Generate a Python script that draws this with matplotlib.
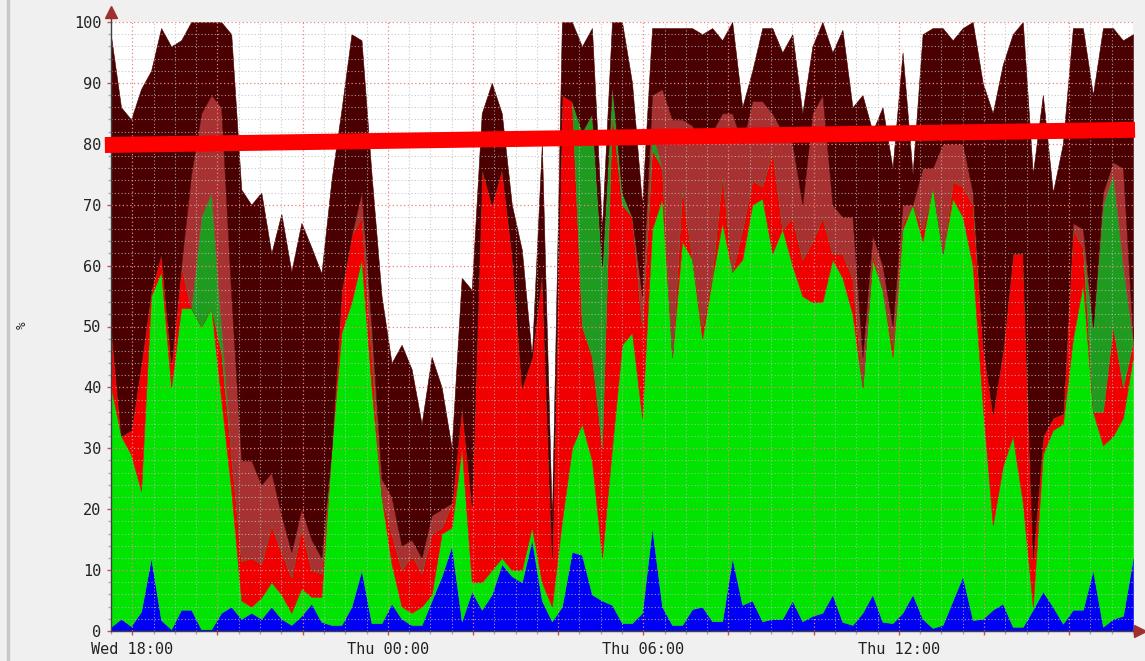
import numpy as np
import pandas as pd
import matplotlib
matplotlib.use("Agg")
import matplotlib.pyplot as plt
import matplotlib.dates as mdates
from matplotlib.lines import Line2D
from matplotlib.ticker import MultipleLocator, FuncFormatter

# 24h window, one sample every ~14 minutes
start = "2024-01-03 17:30"   # a Wednesday
end = "2024-01-04 17:30"

# upper edge of each stacked layer, in %
blue_top = [0.7, 2, 0.8, 3.2, 12, 1.8, 0.3, 3.5, 3.5, 0.3,
            0.3, 3, 4, 2, 3, 2, 4, 2, 1, 2.5,
            4.5, 1.5, 1, 1, 4, 10, 1.3, 1.3, 4.5, 2,
            1, 1, 5, 9, 14, 1.6, 6.5, 3.5, 6, 11,
            9, 8, 15, 5, 1.6, 4, 13, 12.5, 6, 5,
            4.3, 1.3, 1.3, 3, 17, 4, 1, 1, 3.6, 4,
            1.6, 1.6, 12, 4.3, 5, 1.6, 2, 2, 5, 1.6,
            2.5, 3, 6, 1.5, 1, 3, 6, 1.5, 1.3, 3,
            6, 2, 0.5, 1, 5, 9, 1.8, 2, 3.5, 4.5,
            0.7, 0.7, 3.5, 6.5, 4, 1.2, 3.5, 3.5, 10, 0.7,
            2, 2.5, 12]

green_top = [40, 32, 29, 23, 55, 59, 40, 53, 53, 50,
             53, 38, 23, 5, 4, 5.5, 8, 6, 3, 7,
             5.6, 5.6, 30, 49, 54, 61, 40, 22, 11, 4,
             3, 4, 6, 16, 17, 30, 8, 8, 10, 12,
             10, 10, 17, 8, 4, 18, 30, 34, 28, 12,
             30, 47, 49, 35, 66, 71, 45, 64, 61, 48,
             58, 67, 59, 61, 70, 71, 62, 66, 60, 55,
             54, 54, 61, 58, 52, 40, 61, 56, 45, 66,
             70, 64, 73, 62, 71, 68, 60, 37, 17.4, 27,
             32, 21, 4, 29, 33, 34, 48, 57, 36, 30.5,
             32, 35, 45]

red_top = [50, 30, 33, 44, 56, 62, 44, 60, 53, 50,
           53, 45.6, 29, 11.5, 12, 11, 17.4, 13, 8.8, 17,
           10, 9.5, 30, 56, 65, 68, 45, 17, 16, 10,
           12.5, 9.5, 16, 17, 21, 37, 20.6, 76, 70, 76,
           62, 40, 45, 59, 12, 88, 87, 50, 45, 30,
           85, 70, 68, 50, 79, 76, 45, 73, 61, 50,
           59, 75, 56, 66, 74, 73, 79, 65, 68, 61,
           64, 68, 62, 62, 58, 40, 62, 56, 47, 67,
           62, 66, 62, 62, 73.8, 73, 70, 47, 35.7, 46,
           62, 62, 12, 32, 35, 35.7, 66, 63, 36, 36,
           50, 40, 47.5]

darkgreen_top = [50, 30, 33, 44, 56, 62, 44, 60, 53, 68,
                 72, 50, 29, 11.5, 12, 11, 17.4, 13, 8.8, 17,
                 10, 9.5, 30, 56, 65, 68, 45, 17, 16, 10,
                 12.5, 9.5, 16, 17, 21, 37, 20.6, 76, 70, 76,
                 62, 40, 45, 59, 12, 88, 87, 82, 85, 60,
                 90, 72, 68, 50, 82, 76, 45, 73, 61, 50,
                 59, 75, 56, 66, 74, 73, 79, 65, 68, 61,
                 64, 68, 62, 62, 58, 40, 62, 56, 47, 67,
                 62, 66, 62, 62, 73.8, 73, 70, 47, 35.7, 46,
                 62, 62, 12, 32, 35, 35.7, 66, 63, 50, 70,
                 75, 60, 47.5]

brown_top = [50, 30, 33, 44, 56, 62, 44, 60, 75, 85,
             88, 86, 55, 28, 28, 24, 26, 19, 13, 20,
             15, 12, 30, 56, 65, 72, 50, 25, 22, 14,
             15, 12, 19, 20, 21, 37, 20.6, 76, 70, 76,
             62, 40, 45, 59, 12, 88, 87, 82, 85, 60,
             90, 72, 68, 55, 88, 89, 84, 84, 83, 80,
             82, 85, 85, 80, 87, 87, 85, 82, 80, 70,
             85, 88, 70, 68, 68, 45, 65, 60, 50, 70,
             65, 76, 76, 80, 80, 80, 72, 47, 35.7, 46,
             62, 62, 12, 32, 35, 35.7, 67, 66, 50, 72,
             77, 76, 48]

total = [97.7, 86, 84, 89, 92, 99, 96, 97, 100, 100,
         100, 100, 98, 72.5, 70, 72, 62, 68.5, 59, 67,
         63, 58.7, 74, 85.6, 98, 97, 75, 55, 44, 47,
         43, 34, 45, 40, 30, 58, 56, 85, 90, 85,
         70, 62.6, 45, 80, 18, 100, 100, 96, 99, 66,
         100, 100, 90, 70, 99, 99, 99, 99, 99, 98,
         99, 97, 100, 86, 92, 99, 99, 95, 98, 85,
         96, 100, 95, 98.7, 86, 88, 82, 86, 76, 95,
         75, 98, 99, 99, 97, 99, 100, 90, 85, 93,
         98, 100, 75, 88, 72, 80, 99, 99, 88, 99,
         99, 97, 98]

# hand-drawn threshold band
band_y = [79.8, 82.3]

colors = ["#0000f4", "#00e400", "#f00000", "#1f9c1f", "#a83232", "#4a0000"]

t = pd.date_range(start, end, periods=len(total))
tn = mdates.date2num(t.to_pydatetime())

levels = np.vstack([np.zeros(len(total)), blue_top, green_top, red_top,
                    darkgreen_top, brown_top, total])
levels = np.maximum.accumulate(levels, axis=0)

plt.rcParams["font.family"] = "DejaVu Sans Mono"

fig = plt.figure(figsize=(11.45, 6.61), dpi=100, facecolor="#f0f0f0")
ax = fig.add_axes([111 / 1145, 30 / 661, 1022 / 1145, 609 / 661])
ax.set_facecolor("white")

for i, c in enumerate(colors):
    ax.fill_between(tn, levels[i], levels[i + 1], color=c, lw=0.4, edgecolor=c)

x0 = mdates.date2num(pd.Timestamp(start).to_pydatetime())
x1 = mdates.date2num(pd.Timestamp(end).to_pydatetime())
ax.set_xlim(x0, x1)
ax.set_ylim(0, 100)

ax.yaxis.set_major_locator(MultipleLocator(10))
ax.yaxis.set_minor_locator(MultipleLocator(2))
ax.xaxis.set_major_locator(mdates.HourLocator(byhour=range(0, 24, 2)))
ax.xaxis.set_minor_locator(mdates.MinuteLocator(byminute=[0, 30]))


def tlabel(x, pos):
    d = mdates.num2date(x)
    return d.strftime("%a %H:%M") if d.hour % 6 == 0 and d.minute == 0 else ""


ax.xaxis.set_major_formatter(FuncFormatter(tlabel))

ax.set_axisbelow(False)
ax.grid(which="minor", color="#bbbbbb", linestyle=(0, (1, 2)), lw=0.8, alpha=0.8)
ax.grid(which="major", color="#ee8080", linestyle=(0, (1, 2)), lw=0.9)

ax.tick_params(which="major", color="#d05050", length=3, width=1,
               labelsize=11, labelcolor="#222222")
ax.tick_params(which="minor", color="#aaaaaa", length=2, width=1)
ax.tick_params(axis="x", pad=5)
ax.tick_params(axis="y", pad=4)

for s in ax.spines.values():
    s.set_visible(False)

# axis lines with arrow heads
ax.plot([0, 0], [0, 1.014], transform=ax.transAxes, color="#404040", lw=1, clip_on=False, zorder=7)
ax.plot([0, 1.005], [0, 0], transform=ax.transAxes, color="#404040", lw=1, clip_on=False, zorder=7)
ax.plot([0], [1.016], transform=ax.transAxes, marker="^", ms=8, color="#a03030", clip_on=False, zorder=8)
ax.plot([1.007], [0], transform=ax.transAxes, marker=">", ms=8, color="#a03030", clip_on=False, zorder=8)

span = x1 - x0
ax.plot([x0 - 0.006 * span, x1 + 0.002 * span], band_y, color="#ff0000", lw=11.5,
        solid_capstyle="butt", clip_on=False, zorder=9)

fig.text(22 / 1145, 1 - 325 / 661, "%", rotation=90, fontsize=9, ha="center", va="center",
         color="#222222")
fig.add_artist(Line2D([8 / 1145, 8 / 1145], [0, 1], color="#c8c8c8", lw=2.5))

fig.savefig("out.png", dpi=100, facecolor=fig.get_facecolor())
